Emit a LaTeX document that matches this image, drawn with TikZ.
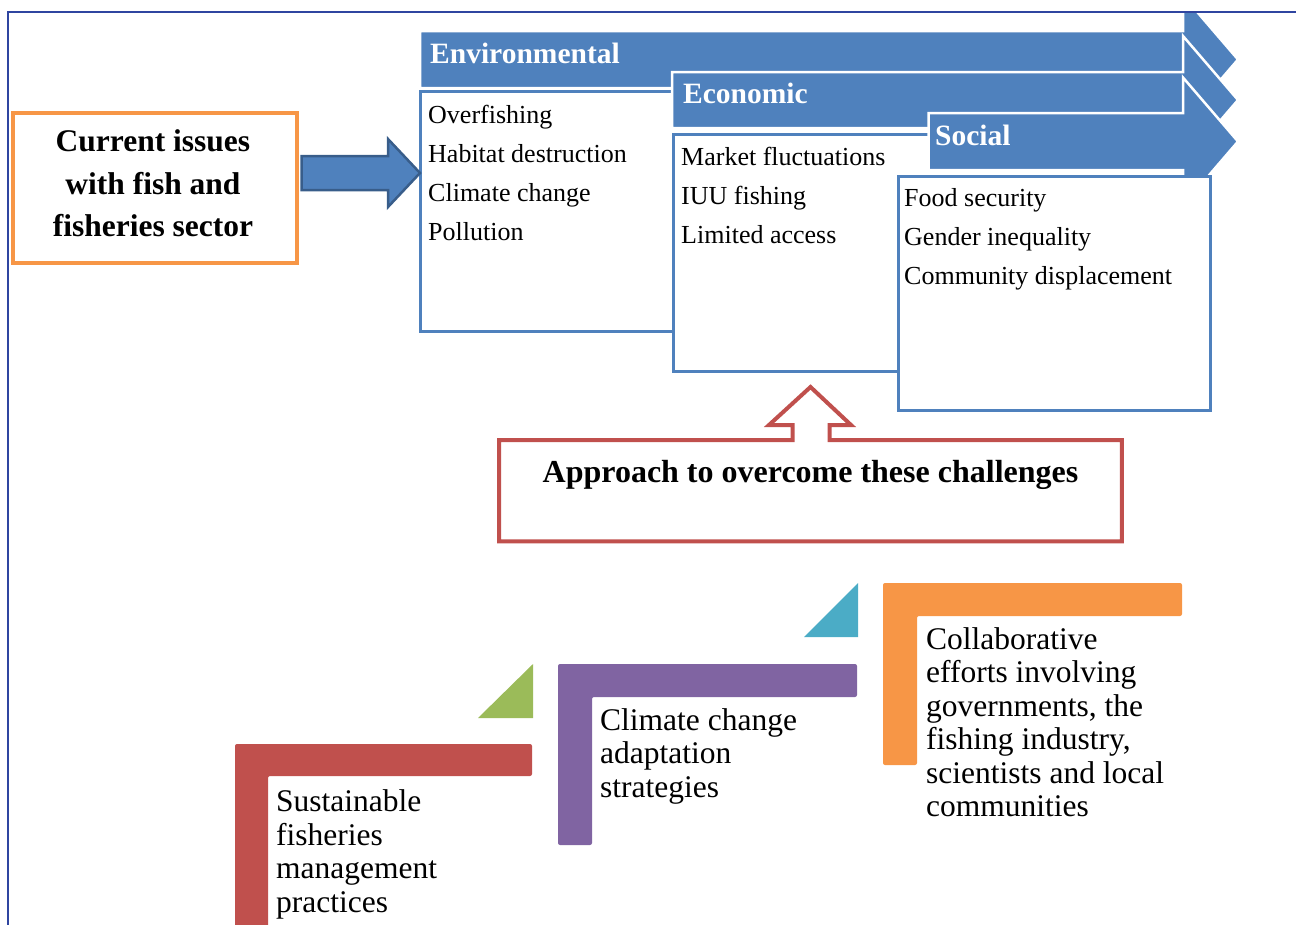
\documentclass[tikz,border=0pt]{standalone}
\usepackage{fontspec}
\setmainfont{Liberation Serif}
\usetikzlibrary{calc}

\definecolor{frameblue}{HTML}{2F45A0}
\definecolor{accblue}{HTML}{4F81BD}
\definecolor{accbluedk}{HTML}{385D8A}
\definecolor{accred}{HTML}{C0504D}
\definecolor{accgreen}{HTML}{9BBB59}
\definecolor{accpurple}{HTML}{8064A2}
\definecolor{accteal}{HTML}{4BACC6}
\definecolor{accorange}{HTML}{F79646}

% stacked lines whose first baseline is the box baseline
\newcommand\leftlines[1]{\vtop{\halign{##\hfil\cr#1\crcr}}}
\newcommand\centerlines[1]{\vtop{\halign{\hfil##\hfil\cr#1\crcr}}}

% band arrow: left x, top y, bottom y, centre y of the head
\newcommand\bandarrow[4]{%
  \draw[bandshape] (#1,#2) -- (1183,#2) -- (1183,{#4-64}) -- (1238,#4)
    -- (1183,{#4+64}) -- (1183,#3) -- (#1,#3) -- cycle;}

\begin{document}
\begin{tikzpicture}[x=1pt,y=-1pt,
  bandshape/.style={fill=accblue, draw=white, line width=2.5pt, line join=miter},
  listfill/.style={fill=white, inner sep=0pt, anchor=north west},
  listline/.style={draw=accblue, line width=3pt, line cap=rect},
  listbox/.style={draw=accblue, fill=white, line width=3pt, inner sep=0pt, anchor=north west},
  bandlabel/.style={anchor=base west, inner sep=0pt, text=white,
    font=\fontsize{29.5}{34}\selectfont\bfseries},
  listtext/.style={anchor=base west, inner sep=0pt, font=\fontsize{26}{39}\selectfont},
  steptext/.style={anchor=base west, inner sep=0pt, font=\fontsize{31.5}{33.5}\selectfont},
  boldtext/.style={anchor=base, inner sep=0pt, font=\fontsize{31.5}{42.3}\selectfont\bfseries},
  blockarrow/.style={fill=accblue, draw=accbluedk, line width=2.5pt, line join=miter},
  callout/.style={draw=accred, line width=4pt, line join=miter},
  frameline/.style={draw=frameblue, line width=2pt},
]
\useasboundingbox (0,0) rectangle (1296,924);

% ---------- three overlapping issue bands with their lists ----------
\begin{scope}
  \clip (0,12.5) rectangle (1296,924);
  \bandarrow{420}{31}{88}{59.5}
  \node[listfill, minimum width=600, minimum height=240] (envbody) at (420,91.5) {};
  \draw[listline] (envbody.north east) -- (envbody.north west)
    -- (envbody.south west) -- (envbody.south east);
  \bandarrow{672}{72}{128}{100}
  \node[listfill, minimum width=400, minimum height=237] (econbody) at (673.5,134) {};
  \draw[listline] (econbody.north east) -- (econbody.north west)
    -- (econbody.south west) -- (econbody.south east);
  \bandarrow{928.5}{113}{170}{141.5}
  \node[listbox, minimum width=312.5, minimum height=234] (socbody) at (896.5,174.5) {};
\end{scope}

\node[bandlabel] (envhead) at (430,63) {Environmental};
\node[bandlabel] (econhead) at (683,103) {Economic};
\node[bandlabel] (sochead) at (935,145) {Social};

\node[listtext] (envlist) at (428,123)
  {\leftlines{Overfishing\cr Habitat destruction\cr Climate change\cr Pollution}};
\node[listtext] (econlist) at (681,165)
  {\leftlines{Market fluctuations\cr IUU fishing\cr Limited access}};
\node[listtext] (soclist) at (904,206)
  {\leftlines{Food security\cr Gender inequality\cr Community displacement}};

% ---------- starting box and block arrow ----------
\node[draw=accorange, line width=4pt, minimum width=283.4, minimum height=150,
  inner sep=0pt, anchor=north west] (issues) at (11.3,110.8) {};
\node[boldtext] (issuestext) at (153,151.7)
  {\centerlines{Current issues\cr with fish and\cr fisheries sector}};

\draw[blockarrow] ([xshift=3pt]issues.east |- 0,156) -- (388,156) -- (388,139)
  -- (envbody.west |- 0,173) -- (388,207) -- (388,190)
  -- ([xshift=3pt]issues.east |- 0,190) -- cycle;

% ---------- approach box with its up-arrow ----------
\node[minimum width=622.5, minimum height=101, inner sep=0pt, anchor=north west]
  (approach) at (499,440) {};
\coordinate (calloutTip) at (810.5,387);
\draw[callout] (approach.north west) -- (792.6,440) -- (792.6,425) -- (769,425)
  -- (calloutTip) -- (851,425) -- (829.5,425) -- (829.5,440)
  -- (approach.north east) -- (approach.south east) -- (approach.south west) -- cycle;
\node[boldtext, font=\fontsize{32}{38}\selectfont\bfseries] (approachtext) at (810.5,482)
  {Approach to overcome these challenges};

% ---------- rising steps ----------
\fill[accred, rounded corners=2pt] (235,940) -- (235,744) -- (532,744) -- (532,776)
  -- (268,776) -- (268,940) -- cycle;
\fill[accgreen] (478,718) -- (533,718) -- (533,664) -- cycle;
\fill[accpurple, rounded corners=2pt] (558,845) -- (558,664) -- (857,664) -- (857,697)
  -- (592,697) -- (592,845) -- cycle;
\fill[accteal] (804,637) -- (858,637) -- (858,583) -- cycle;
\fill[accorange, rounded corners=2pt] (883,765) -- (883,583) -- (1182,583) -- (1182,616)
  -- (917,616) -- (917,765) -- cycle;

\node[steptext] (step1) at (276,811.5)
  {\leftlines{Sustainable\cr fisheries\cr management\cr practices}};
\node[steptext] (step2) at (600,730)
  {\leftlines{Climate change\cr adaptation\cr strategies}};
\node[steptext] (step3) at (926,649)
  {\leftlines{Collaborative\cr efforts involving\cr governments, the\cr fishing industry,\cr scientists and local\cr communities}};

% ---------- page frame ----------
\draw[frameline] (8,930) -- (8,12) -- (1300,12);
\end{tikzpicture}
\end{document}
